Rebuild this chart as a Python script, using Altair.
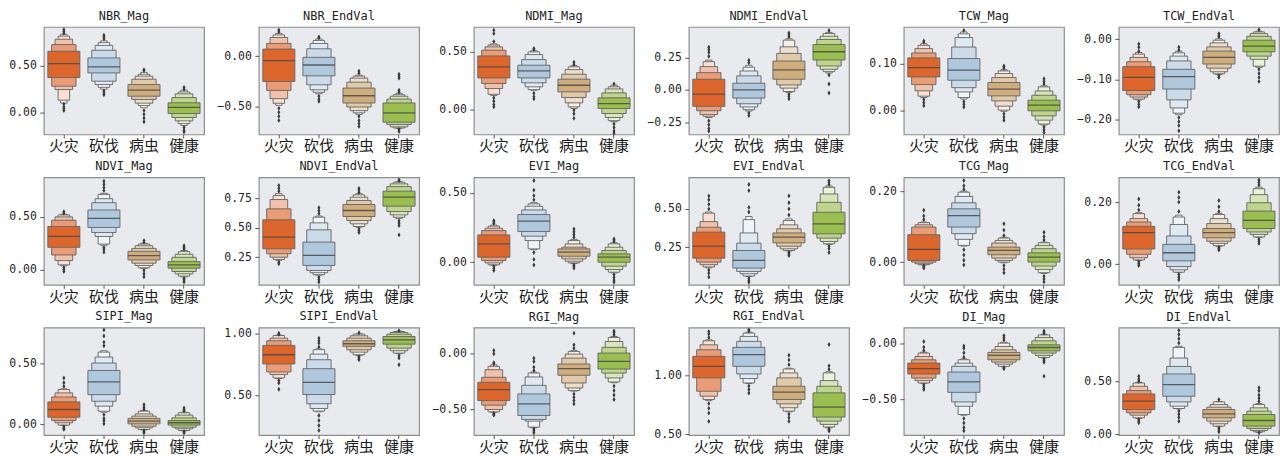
import altair as alt
import pandas as pd

CATS = ["火灾", "砍伐", "病虫", "健康"]
BASE_COLORS = ["#dd662d", "#afc8de", "#d0ad7d", "#9bbe50"]
LEVEL_WIDTHS = [1.0, 0.76, 0.55, 0.36, 0.2]
LEVEL_WHITEN = [0.0, 0.35, 0.6, 0.8, 0.92]

PANEL_W = 161
PANEL_H = 108
BOX_W = PANEL_W / 4 * 0.8

# each box: (median, lower letter values inner->outer, upper letter values inner->outer, low outliers, high outliers)
NBR_MAG = [
    (0.525, [.375, .282, .246, .132, .10], [.657, .729, .786, .82, .84], [.09, .06, .04, .02], [.85, .87, .89]),
    (0.49, [.425, .336, .30, .27, .25], [.586, .668, .72, .75, .77], [.23, .21, .19], [.79, .81, .83]),
    (0.24, [.175, .14, .10, .075, .05], [.30, .357, .39, .41, .43], [.02, -.02, -.06, -.10], [.45, .46]),
    (0.054, [-.011, -.054, -.09, -.12, -.14], [.104, .16, .20, .22, .24], [-.16, -.19, -.21], [.25, .27]),
]
NBR_END = [
    (-0.046, [-.253, -.342, -.424, -.47, -.49], [.069, .125, .184, .21, .225], [-.52, -.56, -.60, -.64], [.24, .26]),
    (-0.089, [-.197, -.286, -.336, -.36, -.375], [-.013, .072, .125, .155, .17], [-.40, -.43, -.45], [.18, .19]),
    (-0.395, [-.467, -.507, -.543, -.565, -.58], [-.319, -.26, -.22, -.20, -.19], [-.60, -.64, -.67, -.70], [-.17, -.15]),
    (-0.566, [-.658, -.681, -.704, -.715, -.72], [-.467, -.428, -.40, -.385, -.37], [-.73, -.75], [-.36, -.34, -.22, -.20, -.18]),
]
NDMI_MAG = [
    (0.369, [.273, .224, .18, .13, .12], [.465, .515, .544, .56, .57], [.10, .07, .04, .02], [.59, .66, .69]),
    (0.334, [.273, .23, .195, .17, .165], [.384, .433, .477, .50, .51], [.14, .11, .09], [.52, .53]),
    (0.209, [.151, .102, .055, .02, .006], [.262, .305, .346, .37, .38], [-.01, -.04, -.08], [.39, .41]),
    (0.049, [.006, -.038, -.073, -.10, -.11], [.099, .142, .177, .195, .21], [-.13, -.16, -.19, -.21], [.22]),
]
NDMI_END = [
    (-0.033, [-.128, -.162, -.192, -.205, -.215], [.082, .133, .18, .218, .23], [-.24, -.27, -.30, -.32], [.26, .29, .31, .33]),
    (0.0, [-.064, -.108, -.133, -.154, -.165], [.051, .108, .146, .175, .19], [-.18, -.20], [.21, .23]),
    (0.154, [.082, .038, .013, -.013, -.02], [.223, .282, .333, .385, .395], [-.035, -.05, -.07], [.41, .425, .44]),
    (0.295, [.231, .185, .159, .141, .13], [.351, .39, .415, .436, .445], [.115, .045, -.025], [.46]),
]
TCW_MAG = [
    (0.0915, [.0718, .0556, .0423, .031, .028], [.112, .1225, .1317, .1387, .142], [.024, .017, .011], [.145, .148]),
    (0.086, [.0648, .049, .040, .028, .025], [.1106, .135, .155, .163, .167], [.02, .014, .008], [.17]),
    (0.0458, [.0317, .0211, .0099, .0014, -.001], [.06, .0704, .0789, .0845, .087], [-.006, -.013, -.02], [.09, .093, .095]),
    (0.012, [0.0, -.0106, -.0197, -.028, -.030], [.0225, .033, .042, .0507, .053], [-.034, -.040, -.046], [.057, .062, .068]),
]
TCW_END = [
    (-0.0947, [-.1276, -.138, -.144, -.149, -.151], [-.0683, -.056, -.0453, -.037, -.033], [-.155, -.162, -.168], [-.03, -.02, -.012]),
    (-0.093, [-.124, -.151, -.171, -.184, -.188], [-.0749, -.054, -.042, -.034, -.03], [-.195, -.205, -.215, -.228], [-.027, -.02]),
    (-0.0453, [-.0617, -.072, -.081, -.086, -.088], [-.0296, -.019, -.009, -.0025, .001], [-.091, -.095], [.006, .010, .014]),
    (-0.0173, [-.0313, -.042, -.05, -.067, -.07], [-.0025, .0074, .014, .018, .02], [-.075, -.085, -.095, -.105], [.024]),
]
NDVI_MAG = [
    (0.314, [.211, .138, .085, .044, .035], [.409, .468, .50, .519, .525], [.02, 0.0, -.02], [.535, .55]),
    (0.487, [.40, .352, .314, .242, .23], [.566, .635, .673, .714, .725], [.21, .19, .165], [.75, .78, .81, .84]),
    (0.132, [.091, .06, .038, .016, .01], [.173, .201, .226, .242, .25], [-.01, -.04, -.07], [.26, .275]),
    (0.044, [.013, -.019, -.041, -.063, -.07], [.075, .116, .145, .17, .18], [-.085, -.10, -.12], [.195, .21, .226]),
]
NDVI_END = [
    (0.421, [.322, .28, .251, .232, .225], [.568, .661, .74, .774, .79], [.21, .195], [.81, .835, .86]),
    (0.266, [.181, .138, .119, .102, .098], [.379, .483, .542, .59, .60], [.08, .06, .04], [.62, .645, .67]),
    (0.647, [.596, .562, .534, .511, .505], [.698, .732, .76, .78, .79], [.49, .475, .46], [.80, .82, .835]),
    (0.76, [.684, .638, .61, .59, .58], [.811, .85, .873, .887, .892], [.56, .54, .52, .44], [.90, .907]),
]
EVI_MAG = [
    (0.132, [.036, .012, -.005, -.019, -.022], [.197, .228, .245, .26, .268], [-.03, -.045, -.06], [.28, .29, .30]),
    (0.296, [.221, .188, .156, .096, .09], [.344, .377, .404, .421, .43], [.07, .02, -.02], [.45, .48, .52, .59]),
    (0.072, [.043, .024, .007, -.005, -.01], [.096, .108, .132, .156, .165], [-.02, -.03, -.043], [.18, .20, .22, .24]),
    (0.036, [0.0, -.029, -.053, -.072, -.078], [.06, .084, .108, .132, .14], [-.09, -.11, -.13, -.145], [.15, .16, .168]),
]
EVI_END = [
    (0.257, [.178, .152, .135, .12, .115], [.348, .38, .417, .472, .48], [.10, .08, .055], [.50, .53, .56, .585]),
    (0.163, [.113, .091, .076, .061, .058], [.228, .276, .343, .43, .45], [.045, .03, .02], [.48, .51, .62, .66]),
    (0.315, [.278, .256, .239, .228, .225], [.343, .37, .396, .424, .435], [.215, .205, .195], [.46, .50, .54, .585]),
    (0.402, [.337, .309, .287, .272, .268], [.478, .543, .598, .641, .65], [.255, .24, .215], [.66, .675, .685]),
]
TCG_MAG = [
    (0.0357, [.0047, 0.0, -.0047, -.0075, -.008], [.077, .0986, .105, .111, .113], [-.011, -.014, -.017], [.12, .13, .146]),
    (0.131, [.0986, .08, .064, .047, .045], [.15, .167, .185, .197, .20], [.035, .02, .005, -.008], [.205, .215, .23]),
    (0.033, [.0207, .0113, .0047, 0.0, -.002], [.042, .0535, .061, .0676, .07], [-.01, -.02, -.03], [.075, .09, .108]),
    (0.014, [0.0, -.0113, -.0207, -.03, -.032], [.026, .0376, .047, .0545, .056], [-.04, -.048, -.056], [.062, .072, .084]),
]
TCG_END = [
    (0.102, [.049, .032, .021, .014, .012], [.122, .136, .147, .163, .166], [.008, .002, -.004], [.175, .19, .21]),
    (0.037, [.011, -.0074, -.018, -.0255, -.027], [.064, .091, .128, .152, .158], [-.033, -.042, -.05], [.17, .20, .215, .232]),
    (0.102, [.085, .074, .067, .06, .058], [.115, .131, .147, .16, .164], [.054, .05, .046], [.17, .185, .205]),
    (0.141, [.115, .104, .096, .088, .086], [.171, .198, .224, .243, .248], [.08, .074, .067], [.255, .263, .271]),
]
SIPI_MAG = [
    (0.122, [.059, .032, .014, -.005, -.008], [.184, .224, .257, .284, .29], [-.018, -.03, -.04], [.31, .34, .378]),
    (0.346, [.243, .189, .149, .108, .10], [.44, .50, .549, .589, .60], [.08, .05, .03, .005], [.64, .67, .72, .77]),
    (0.027, [.005, -.014, -.027, -.041, -.044], [.049, .068, .086, .108, .115], [-.05, -.06, -.068], [.125, .14, .162]),
    (0.014, [-.005, -.022, -.035, -.049, -.051], [.032, .054, .076, .095, .10], [-.056, -.062, -.068], [.11, .12, .135]),
]
SIPI_END = [
    (0.827, [.753, .689, .668, .641, .635], [.902, .939, .96, .981, .985], [.62, .60, .55], [.99, 1.0]),
    (0.606, [.508, .434, .396, .375, .37], [.715, .787, .832, .867, .875], [.34, .30, .26, .22], [.89, .92, .94, .96]),
    (0.915, [.894, .867, .848, .827, .82], [.939, .96, .979, .992, .995], [.81, .80, .787], [1.003]),
    (0.947, [.912, .88, .859, .84, .835], [.973, .992, 1.005, 1.013, 1.016], [.82, .80, .747], [1.02]),
]
RGI_MAG = [
    (-0.321, [-.42, -.461, -.50, -.521, -.525], [-.256, -.211, -.143, -.113, -.10], [-.535, -.545, -.55], [-.09, -.08, 0.0, .03]),
    (-0.449, [-.554, -.589, -.604, -.658, -.665], [-.36, -.283, -.208, -.173, -.165], [-.675, -.69, -.708], [-.15, -.12, -.07, -.04]),
    (-0.134, [-.193, -.262, -.307, -.33, -.335], [-.092, -.039, -.003, .021, .03], [-.36, -.39, -.42, -.45], [.05, .08, .185]),
    (-0.068, [-.137, -.173, -.217, -.253, -.26], [.006, .057, .11, .146, .155], [-.29, -.33, -.37, -.41], [.17, .19, .205]),
]
RGI_END = [
    (1.076, [.978, .865, .823, .795, .785], [1.16, 1.216, 1.258, 1.292, 1.30], [.76, .72, .68, .61], [1.32, 1.35, 1.37]),
    (1.174, [1.076, 1.011, .972, .935, .93], [1.236, 1.287, 1.329, 1.357, 1.365], [.91, .88, .85], [1.375, 1.385]),
    (0.857, [.795, .758, .725, .697, .69], [.907, .978, 1.02, 1.053, 1.06], [.67, .64, .61], [1.09, 1.13, 1.17]),
    (0.73, [.646, .612, .584, .562, .555], [.851, .907, .955, 1.02, 1.03], [.545, .535, .528], [1.05, 1.08, 1.26]),
]
DI_MAG = [
    (-0.223, [-.271, -.307, -.33, -.351, -.355], [-.173, -.143, -.113, -.083, -.075], [-.37, -.39, -.41], [-.06, -.03, .02]),
    (-0.342, [-.435, -.521, -.56, -.634, -.64], [-.253, -.202, -.173, -.143, -.135], [-.67, -.71, -.75, -.78], [-.12, -.08, -.04, -.02]),
    (-0.104, [-.143, -.164, -.182, -.202, -.205], [-.077, -.054, -.024, .006, .015], [-.212, -.223], [.035, .055, .074]),
    (-0.033, [-.063, -.083, -.104, -.122, -.125], [-.009, .027, .057, .08, .085], [-.135, -.15, -.165, -.29], [.095, .105, .116]),
]
DI_END = [
    (0.3125, [.234, .203, .181, .156, .15], [.381, .4125, .453, .484, .49], [.14, .125, .11], [.50, .52, .547]),
    (0.469, [.359, .306, .266, .244, .24], [.569, .64, .719, .819, .83], [.22, .19, .16, .125], [.86, .90, .94, .98]),
    (0.194, [.156, .125, .10, .078, .073], [.234, .256, .281, .306, .31], [.06, .045, .025], [.328]),
    (0.131, [.078, .056, .0375, .025, .02], [.1875, .219, .25, .281, .29], [.015], [.31, .34, .37, .41, .44]),
]

PANEL_NAMES = ["NBR_Mag", "NBR_EndVal", "NDMI_Mag", "NDMI_EndVal", "TCW_Mag", "TCW_EndVal",
               "NDVI_Mag", "NDVI_EndVal", "EVI_Mag", "EVI_EndVal", "TCG_Mag", "TCG_EndVal",
               "SIPI_Mag", "SIPI_EndVal", "RGI_Mag", "RGI_EndVal", "DI_Mag", "DI_EndVal"]
PANEL_DATA = [NBR_MAG, NBR_END, NDMI_MAG, NDMI_END, TCW_MAG, TCW_END,
              NDVI_MAG, NDVI_END, EVI_MAG, EVI_END, TCG_MAG, TCG_END,
              SIPI_MAG, SIPI_END, RGI_MAG, RGI_END, DI_MAG, DI_END]
Y_DOMAINS = [[-0.236, 0.918], [-0.78, 0.289], [-0.221, 0.718], [-0.346, 0.487], [-0.05, 0.1775], [-0.237, 0.0305],
             [-0.145, 0.877], [0.017, 0.929], [-0.163, 0.613], [0.004, 0.707], [-0.064, 0.239], [-0.066, 0.28],
             [-0.086, 0.789], [0.183, 1.045], [-0.729, 0.235], [0.494, 1.404], [-0.818, 0.146], [-0.006, 1.006]]
Y_TICKS = [[0.0, 0.5], [-0.5, 0.0], [0.0, 0.5], [-0.25, 0.0, 0.25], [0.0, 0.1], [-0.2, -0.1, 0.0],
           [0.0, 0.5], [0.25, 0.5, 0.75], [0.0, 0.5], [0.25, 0.5], [0.0, 0.2], [0.0, 0.2],
           [0.0, 0.5], [0.5, 1.0], [-0.5, 0.0], [0.5, 1.0], [-0.5, 0.0], [0.0, 0.5]]

DIAMOND = "M0,-1L0.62,0L0,1L-0.62,0Z"


def mix(hex_color, t):
    h = hex_color.lstrip("#")
    rgb = [int(h[i:i + 2], 16) for i in (0, 2, 4)]
    out = [round(c * (1 - t) + 255 * t) for c in rgb]
    return "#" + "".join(f"{c:02x}" for c in out)


def make_panel(name, boxes, domain, ticks):
    rects, meds, outs = [], [], []
    for ci, (cat, box) in enumerate(zip(CATS, boxes)):
        med, lo, hi, olo, ohi = box
        for k in reversed(range(len(lo))):
            rects.append(dict(cat=cat, lo=lo[k], hi=hi[k], w=BOX_W * LEVEL_WIDTHS[k],
                              fill=mix(BASE_COLORS[ci], LEVEL_WHITEN[k])))
        meds.append(dict(cat=cat, v=med))
        for v in list(olo) + list(ohi):
            outs.append(dict(cat=cat, v=v))
    x = alt.X("cat:N", sort=CATS, title=None,
              scale=alt.Scale(domain=CATS, paddingInner=0, paddingOuter=0))
    yscale = alt.Scale(domain=domain, nice=False, zero=False)
    yaxis = alt.Axis(values=ticks, format=".2f", title=None)
    bars = alt.Chart(pd.DataFrame(rects)).mark_bar(stroke="#646464", strokeWidth=0.9).encode(
        x=x,
        y=alt.Y("lo:Q", scale=yscale, axis=yaxis),
        y2="hi:Q",
        size=alt.Size("w:Q", scale=None),
        fill=alt.Fill("fill:N", scale=None),
    )
    med_marks = alt.Chart(pd.DataFrame(meds)).mark_tick(
        size=BOX_W, thickness=1.3, color="#4a4a4a", opacity=0.85).encode(
        x=x, y=alt.Y("v:Q", scale=yscale, axis=yaxis))
    out_marks = alt.Chart(pd.DataFrame(outs)).mark_point(
        shape=DIAMOND, filled=True, size=24, color="#3c3c3c", opacity=1).encode(
        x=x, y=alt.Y("v:Q", scale=yscale, axis=yaxis))
    return alt.layer(bars, med_marks, out_marks).properties(
        title=name, width=PANEL_W, height=PANEL_H)


panels = [make_panel(n, d, dom, t) for n, d, dom, t in zip(PANEL_NAMES, PANEL_DATA, Y_DOMAINS, Y_TICKS)]

chart = alt.concat(*panels, columns=6, spacing={"row": 43, "column": 55}).properties(
    bounds="flush",
    padding={"left": 0, "top": 0, "right": 0, "bottom": 0},
    background="white",
).configure_view(
    fill="#e8eaed", stroke="#8f8f8f", strokeWidth=1.2
).configure_axisY(
    labelFont="DejaVu Sans Mono", labelFontSize=11.5, labelColor="#262626",
    tickColor="#555555", tickSize=4, labelPadding=3.5, domain=False, grid=False
).configure_axisX(
    labelFont="Noto Sans CJK SC", labelFontSize=15, labelColor="#1a1a1a",
    tickColor="#555555", tickSize=3.5, labelPadding=1, domain=False, grid=False, labelAngle=0
).configure_title(
    font="DejaVu Sans Mono", fontSize=12, fontWeight="normal", color="#222222", offset=4
)

chart.save("out.html", embed_options={"renderer": "svg", "actions": False})
